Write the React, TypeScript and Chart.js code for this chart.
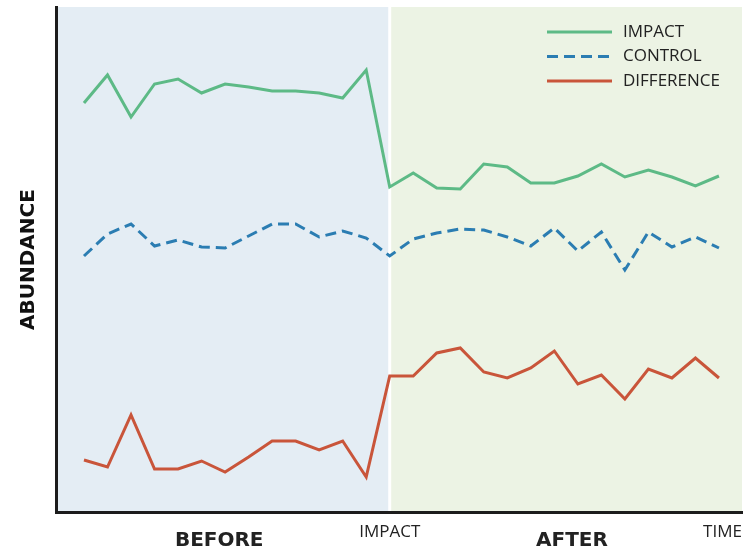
import React, { useEffect, useRef } from 'react';
import { Chart, registerables } from 'chart.js';

Chart.register(...registerables);

// ---- data ----
const timeSteps = [0, 1, 2, 3, 4, 5, 6, 7, 8, 9, 10, 11, 12, 13, 14, 15, 16, 17, 18, 19, 20, 21, 22, 23, 24, 25, 26, 27];
const impactSeries = [409, 437, 395, 428, 433, 419, 428, 425, 421, 421, 419, 414, 442, 325, 339, 324, 323, 348, 345, 329, 329, 336, 348, 335, 342, 335, 326, 336];
const controlSeries = [256, 278, 288, 266, 272, 265, 264, 276, 288, 288, 275, 281, 274, 256, 273, 279, 283, 282, 275, 266, 284, 261, 280, 242, 280, 265, 275, 264];
const differenceSeries = [52, 45, 97, 43, 43, 51, 40, 55, 71, 71, 62, 71, 35, 136, 136, 159, 164, 140, 134, 144, 161, 128, 137, 113, 143, 134, 154, 134];
const seriesNames = ['IMPACT', 'CONTROL', 'DIFFERENCE'];
const impactStep = 13;
const xTickLabels = ['BEFORE', 'IMPACT', 'AFTER', 'TIME'];
const xTickSteps = [5.75, 13, 20.75, 27.15];
const xTickBold = [true, false, true, false];
const yTitle = 'ABUNDANCE';
const yMin = 0;
const yMax = 505;
const xMin = -1.19;
const xMax = 27.98;

// ---- styles ----
const GREEN = '#5dba86';
const BLUE = '#2b7db2';
const RED = '#c9553a';
const BG_BEFORE = '#e4edf4';
const BG_AFTER = '#ecf3e4';
const AXIS = '#1c1c1c';
const TEXT = '#222222';

const backgroundPlugin = {
  id: 'phaseBackground',
  beforeDraw(chart: any) {
    const { ctx, chartArea, scales } = chart;
    const split = scales.x.getPixelForValue(impactStep);
    ctx.save();
    ctx.fillStyle = BG_BEFORE;
    ctx.fillRect(chartArea.left, chartArea.top, split - 1.5 - chartArea.left, chartArea.bottom - chartArea.top);
    ctx.fillStyle = BG_AFTER;
    ctx.fillRect(split + 1.5, chartArea.top, chartArea.right - split - 1.5, chartArea.bottom - chartArea.top);
    ctx.restore();
  },
};

const legendPlugin = {
  id: 'insideLegend',
  afterDatasetsDraw(chart: any) {
    const { ctx, chartArea } = chart;
    const lineStart = chartArea.right - 195;
    const lineEnd = lineStart + 65;
    const textX = lineEnd + 11;
    ctx.save();
    chart.data.datasets.forEach((ds: any, i: number) => {
      const y = chartArea.top + 25 + i * 24.5;
      ctx.beginPath();
      ctx.strokeStyle = ds.borderColor;
      ctx.lineWidth = 3;
      ctx.setLineDash(ds.borderDash || []);
      ctx.moveTo(lineStart, y);
      ctx.lineTo(lineEnd, y);
      ctx.stroke();
      ctx.setLineDash([]);
      ctx.fillStyle = TEXT;
      ctx.font = '17px "Open Sans"';
      ctx.textBaseline = 'middle';
      ctx.textAlign = 'left';
      ctx.fillText(ds.label, textX, y);
    });
    ctx.restore();
  },
};

export default function App() {
  const canvasRef = useRef<HTMLCanvasElement | null>(null);

  useEffect(() => {
    const canvas = canvasRef.current;
    if (!canvas) return;
    const toPoints = (vals: number[]) => timeSteps.map((t, i) => ({ x: t, y: vals[i] }));
    const chart = new Chart(canvas, {
      type: 'line',
      data: {
        datasets: [
          { label: seriesNames[0], data: toPoints(impactSeries), borderColor: GREEN, borderWidth: 3, pointRadius: 0, tension: 0, fill: false },
          { label: seriesNames[1], data: toPoints(controlSeries), borderColor: BLUE, borderWidth: 3, borderDash: [11, 6], pointRadius: 0, tension: 0, fill: false },
          { label: seriesNames[2], data: toPoints(differenceSeries), borderColor: RED, borderWidth: 3, pointRadius: 0, tension: 0, fill: false },
        ],
      },
      options: {
        responsive: false,
        animation: false,
        events: [],
        layout: { padding: { left: 0, top: 7, right: 2, bottom: 0 } },
        plugins: { legend: { display: false }, tooltip: { enabled: false } },
        scales: {
          x: {
            type: 'linear',
            min: xMin,
            max: xMax,
            grid: { display: false, drawTicks: false },
            border: { display: true, color: AXIS, width: 3 },
            afterBuildTicks: (scale: any) => {
              scale.ticks = xTickSteps.map((v) => ({ value: v }));
            },
            afterFit: (scale: any) => {
              scale.height = 43;
              scale.paddingLeft = 0;
              scale.paddingRight = 0;
            },
            ticks: {
              autoSkip: false,
              maxRotation: 0,
              minRotation: 0,
              padding: 10,
              color: TEXT,
              callback: (_v: any, index: number) => xTickLabels[index],
              font: (ctx: any) =>
                xTickBold[ctx.index]
                  ? { family: '"DejaVu Sans"', size: 20, weight: 'bold', lineHeight: 1.9 }
                  : { family: '"Open Sans"', size: 17, weight: 'normal', lineHeight: 1.2 },
            },
          },
          y: {
            min: yMin,
            max: yMax,
            grid: { display: false, drawTicks: false },
            border: { display: true, color: AXIS, width: 3 },
            ticks: { display: false },
            afterFit: (scale: any) => {
              scale.width = 56;
              scale.paddingTop = 0;
              scale.paddingBottom = 0;
            },
            title: {
              display: true,
              text: yTitle,
              color: '#111111',
              font: { family: '"DejaVu Sans"', size: 20, weight: 'bold', lineHeight: 1.2 },
              padding: { top: 17, bottom: 0 },
            },
          },
        },
      },
      plugins: [backgroundPlugin, legendPlugin],
    } as any);
    return () => chart.destroy();
  }, []);

  return (
    <div style={{ position: 'fixed', left: 0, top: 0, width: 744, height: 555, background: '#ffffff' }}>
      <canvas ref={canvasRef} width={744} height={555} style={{ display: 'block', width: 744, height: 555 }} />
    </div>
  );
}
